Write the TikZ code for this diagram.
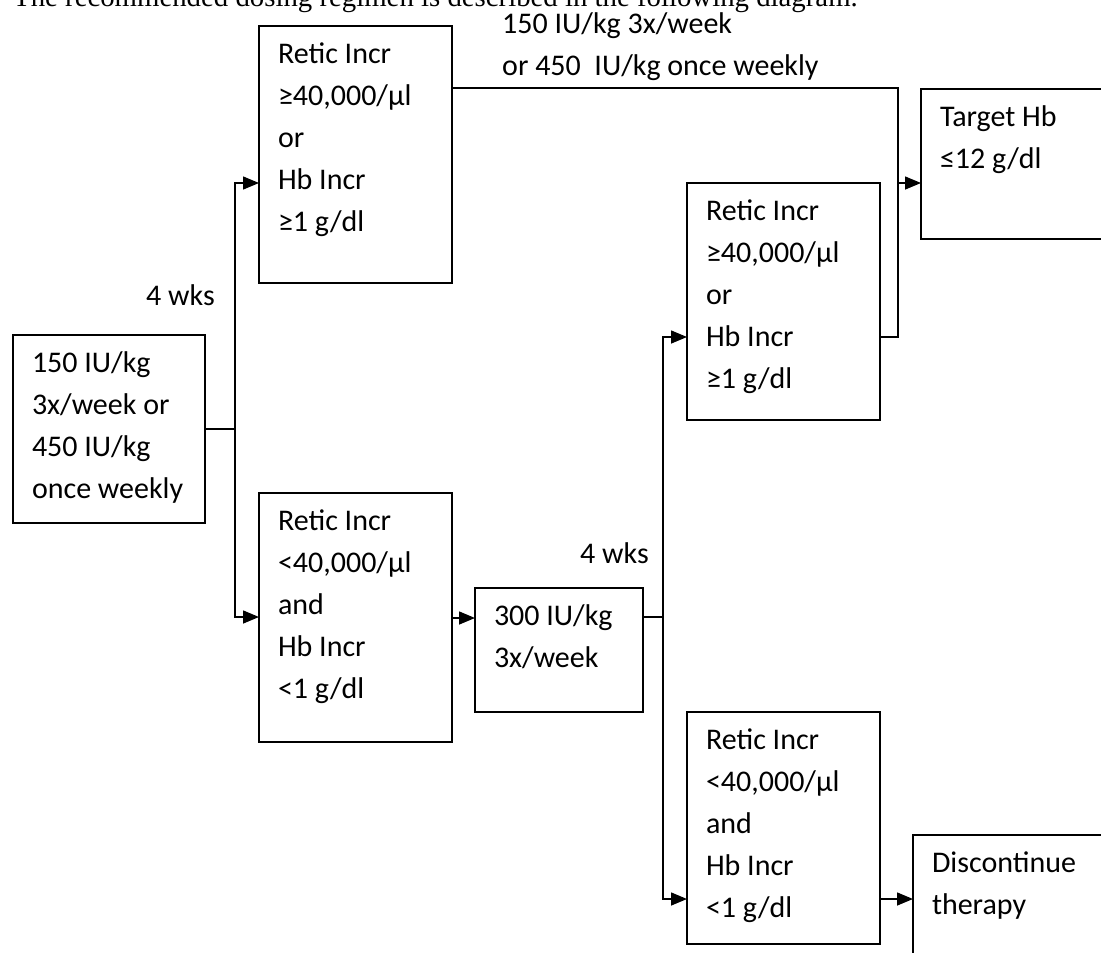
\documentclass[tikz,border=0pt]{standalone}
\usepackage{fontspec}
\setmainfont{Carlito}
\newfontfamily\headfont{Liberation Serif}
\usetikzlibrary{positioning,arrows.meta}

% top aligned text block: width, height, lines
\newcommand{\boxlines}[3]{\parbox[t][#2][t]{#1}{\setlength{\baselineskip}{42pt}\leftskip=19pt\rule{0pt}{37.5pt}#3}}

\begin{document}
\begin{tikzpicture}[x=1pt,y=-1pt,font=\fontsize{30}{42}\selectfont,
    stage/.style={draw,line width=1.6pt,inner sep=0pt,outer sep=0pt,anchor=north west},
    note/.style={inner sep=0pt,anchor=north west},
    flow/.style={line width=1.5pt,-{Triangle[length=16pt,width=13pt]}},
    link/.style={line width=1.5pt}]
    \useasboundingbox (0,0) rectangle (1101,953);
    \clip (0,0) rectangle (1101,953);
    \node[anchor=base west,inner sep=0pt,font=\headfont\fontsize{28.8}{30}\selectfont] (intro) at (13,6)
        {The recommended dosing regimen is described in the following diagram.};
    \node[stage] (dose) at (13,335) {\boxlines{192pt}{188pt}{150 IU/kg\\3x/week or\\450 IU/kg\\once weekly}};
    \node[stage] (riseA) at (259,26) {\boxlines{193pt}{257pt}{Retic Incr\\≥40,000/µl\\or\\Hb Incr\\≥1 g/dl}};
    \node[stage, below=210pt of riseA.south west, anchor=north west] (lowA)
        {\boxlines{193pt}{249pt}{Retic Incr\\<40,000/µl\\and\\Hb Incr\\<1 g/dl}};
    \node[stage] (dose300) at (475,588) {\boxlines{168pt}{124pt}{300 IU/kg\\3x/week}};
    \node[stage] (riseB) at (687,183) {\boxlines{193pt}{237pt}{Retic Incr\\≥40,000/µl\\or\\Hb Incr\\≥1 g/dl}};
    \node[stage, below=292pt of riseB.south west, anchor=north west] (lowB)
        {\boxlines{193pt}{232pt}{Retic Incr\\<40,000/µl\\and\\Hb Incr\\<1 g/dl}};
    \node[stage] (target) at (921,89) {\boxlines{220pt}{150pt}{Target Hb\\≤12 g/dl}};
    \node[stage] (stop) at (913,835) {\boxlines{220pt}{160pt}{Discontinue\\therapy}};
    % labels on the branches
    \node[note] (regimen) at (483,-4.5) {\boxlines{340pt}{90pt}{150 IU/kg 3x/week\\or 450 \ IU/kg once weekly}};
    \node[anchor=base west,inner sep=0pt] (wait1) at (146,305) {4 wks};
    \node[anchor=base west,inner sep=0pt] (wait2) at (580,563) {4 wks};
    % connectors
    \coordinate (fork) at (235,429);
    \coordinate (fork2) at (663,617);
    \coordinate (join) at (898,183);
    \draw[link] (dose) -- (fork);
    \draw[flow] (fork) |- ([yshift=-157pt]riseA.north west);
    \draw[flow] (fork) |- ([yshift=-124pt]lowA.north west);
    \draw[link] ([yshift=-62pt]riseA.north east) -| (join);
    \draw[link] ([yshift=-154pt]riseB.north east) -| (join);
    \draw[flow] (join) -- ([yshift=-94pt]target.north west);
    \draw[flow] ([yshift=-125pt]lowA.north east) -- ([yshift=-30pt]dose300.north west);
    \draw[link] ([yshift=-29pt]dose300.north east) -- (fork2);
    \draw[flow] (fork2) |- ([yshift=-154pt]riseB.north west);
    \draw[flow] (fork2) |- ([yshift=-187pt]lowB.north west);
    \draw[flow] ([yshift=-187pt]lowB.north east) -- ([yshift=-64pt]stop.north west);
\end{tikzpicture}
\end{document}
